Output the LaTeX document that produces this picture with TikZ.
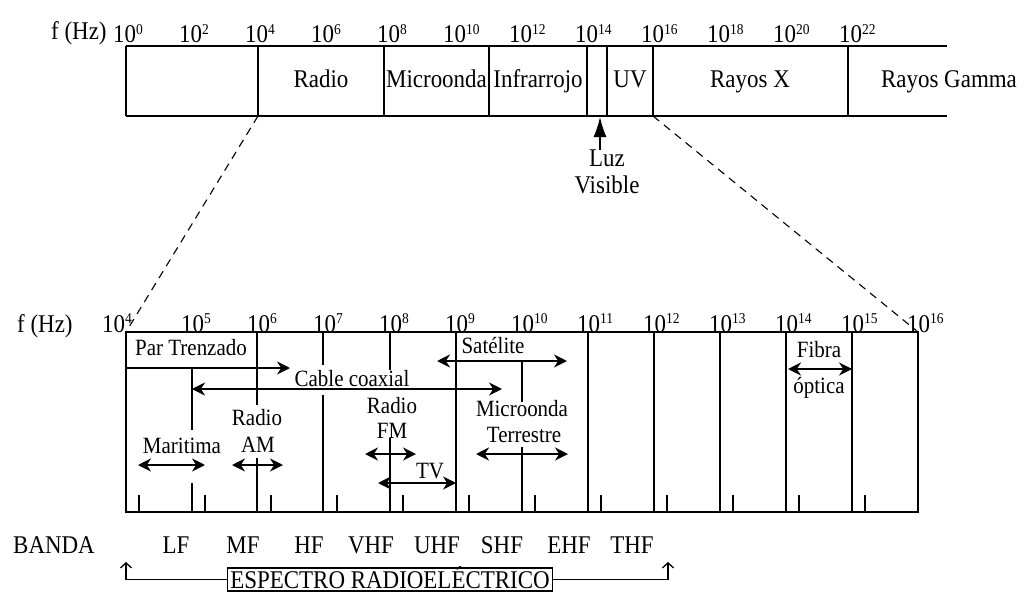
\documentclass[tikz,border=0pt]{standalone}
\usepackage{fontspec}
\setmainfont{Liberation Serif}[FakeStretch=0.9]
\usetikzlibrary{arrows.meta}

\newcommand{\dpot}[1]{10\raisebox{9pt}{\fontsize{15}{15}\selectfont #1}}

\tikzset{
  txt/.style={font=\fontsize{25.5}{27}\selectfont, inner sep=0pt},
  smalltxt/.style={font=\fontsize{23.3}{25}\selectfont, inner sep=0pt},
  bar/.style={line width=1.5pt},
  span/.style={line width=2pt, {Stealth[length=13pt,width=13pt]}-{Stealth[length=13pt,width=13pt]}},
  oneway/.style={line width=2pt, -{Stealth[length=13pt,width=13pt]}},
  zoomline/.style={line width=1.1pt, dash pattern=on 8pt off 6pt},
  bracket/.style={line width=1.3pt, -{Straight Barb[length=5pt,width=11pt]}}
}

\begin{document}
\begin{tikzpicture}[x=1pt, y=-1pt]
    \useasboundingbox (0,0) rectangle (1028,594);
    \fill[white] (0,0) rectangle (1028,594);

    % Full spectrum
    \node[txt, anchor=base west] (fhz1) at (51,40) {f (Hz)};
    \foreach \i in {0,...,11} {
      \pgfmathtruncatemacro\e{2*\i}
      \node[txt, anchor=base west] (t\e) at (113+66*\i,43) {\dpot{\e}};
    }
    \draw[bar] (126,46) -- (947,46);
    \draw[bar] (126,116) -- (947,116);
    \foreach \x in {126,258,384,489,587,607,653,848}
      \draw[bar] (\x,46) -- (\x,116);

    \node[txt, anchor=base] (radio) at (321,88) {Radio};
    \node[txt, anchor=base] (micro) at (436.5,88) {Microonda};
    \node[txt, anchor=base] (infra) at (538,88) {Infrarrojo};
    \node[txt, anchor=base] (uv) at (630,88) {UV};
    \node[txt, anchor=base] (rayosx) at (750,88) {Rayos X};
    \node[txt, anchor=base] (gamma) at (949,88) {Rayos Gamma};

    % Visible light
    \node[txt, align=center, anchor=north] (luz) at (607,150) {Luz\\Visible};
    \coordinate (vis) at (600,117);
    \draw[line width=1.5pt, -{Latex[length=20pt,width=13pt]}] (vis |- luz.north) -- (vis);

    % Zoom onto the radio part
    \draw[zoomline] (258,116) -- (126,332);
    \draw[zoomline] (653,116) -- (918,332);

    % Radio spectrum
    \node[txt, anchor=base west] (fhz2) at (17,332) {f (Hz)};
    \node[txt, anchor=base west] (b4) at (102,332) {\dpot{4}};
    \foreach \k in {1,...,12} {
      \pgfmathtruncatemacro\e{4+\k}
      \node[txt, anchor=base west] (b\e) at (115+66*\k,332) {\dpot{\e}};
    }
    \draw[bar] (126,332) rectangle (918,512);
    \foreach \x in {456,588,654,720,786,852}
      \draw[bar] (\x,332) -- (\x,512);
    \draw[bar] (192,368) -- (192,430) (192,483) -- (192,512);
    \draw[bar] (257,332) -- (257,405) (257,458) -- (257,512);
    \draw[bar] (323,332) -- (323,365) (323,395) -- (323,512);
    \draw[bar] (390,332) -- (390,370) (390,438) -- (390,512);
    \draw[bar] (522,361) -- (522,402) (522,447) -- (522,512);
    \foreach \k in {0,...,11}
      \draw[bar] (139+66*\k,512) -- ++(0,-17);

    % Media
    \node[smalltxt, anchor=base] (par) at (191,355) {Par Trenzado};
    \draw[oneway] (126,368) -- (290,368);
    \node[smalltxt, anchor=base] (coax) at (352,386) {Cable coaxial};
    \draw[span] (192,389) -- (502,389);
    \node[smalltxt, anchor=base] (mar) at (182,453) {Maritima};
    \draw[span] (138,465) -- (205,465);
    \node[smalltxt, anchor=base] (am1) at (257,425) {Radio};
    \node[smalltxt, anchor=base] (am2) at (258,452) {AM};
    \draw[span] (232,465) -- (283,465);
    \node[smalltxt, anchor=base] (fm1) at (392,413) {Radio};
    \node[smalltxt, anchor=base] (fm2) at (392,438) {FM};
    \draw[span] (365,454) -- (416,454);
    \node[smalltxt, anchor=base] (tv) at (430,478) {TV};
    \draw[span] (378,483) -- (456,483);
    \node[smalltxt, anchor=base] (sat) at (493,353) {Satélite};
    \draw[span] (437,361) -- (567,361);
    \node[smalltxt, anchor=base] (mt1) at (522,416) {Microonda};
    \node[smalltxt, anchor=base] (mt2) at (524,442) {Terrestre};
    \draw[span] (476,454) -- (568,454);
    \node[smalltxt, anchor=base] (fib1) at (819,357) {Fibra};
    \node[smalltxt, anchor=base] (fib2) at (819,393) {óptica};
    \draw[span] (788,369) -- (852,369);

    % Bands
    \node[txt, anchor=base west] (banda) at (13,553) {BANDA};
    \foreach \b/\x in {LF/176,MF/243,HF/309,VHF/371,UHF/437,SHF/502,EHF/569,THF/632}
      \node[txt, anchor=base] (\b) at (\x,553) {\b};

    % Radio spectrum span
    \node[txt, draw, line width=1.5pt, inner xsep=3pt, inner ysep=1.5pt, text height=19pt, text depth=1pt, anchor=north] (esp) at (390,567) {ESPECTRO RADIOELÉCTRICO};
    \draw[bracket] (esp.west) -| (126,562);
    \draw[bracket] (esp.east) -| (668,562);
\end{tikzpicture}
\end{document}
